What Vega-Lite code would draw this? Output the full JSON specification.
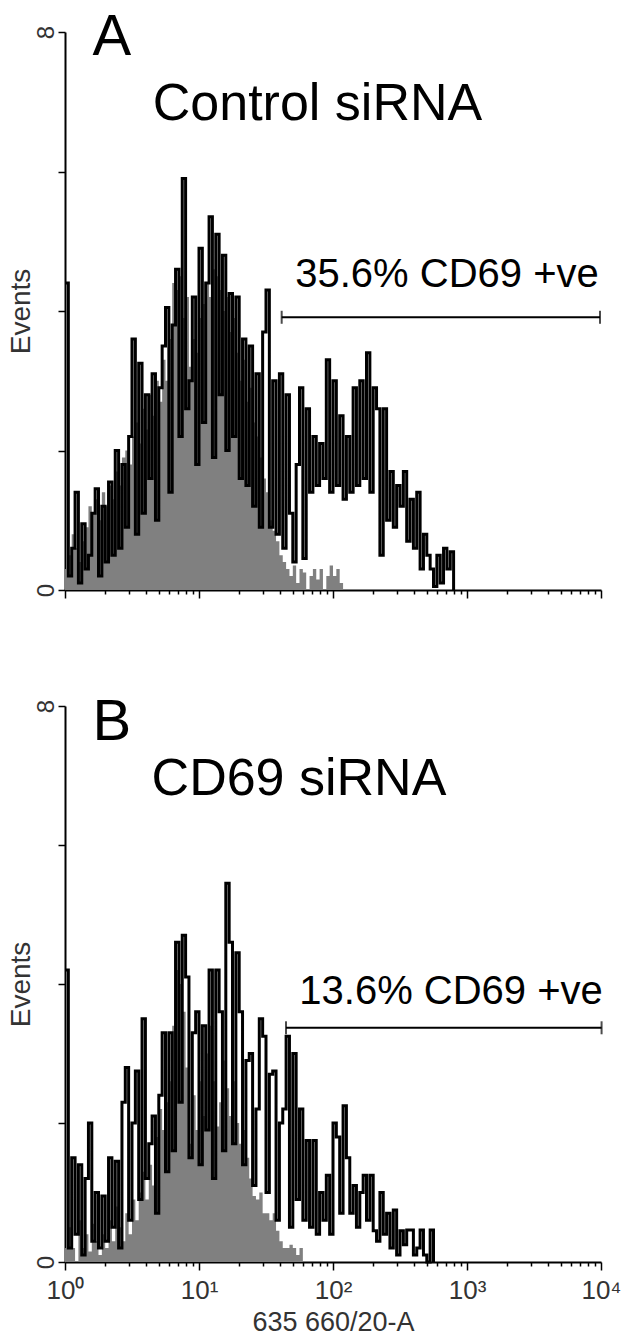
{
"$schema": "https://vega.github.io/schema/vega-lite/v6.json",
"padding": {"left": 7, "top": 9, "right": 0, "bottom": 0},
"spacing": 116,
"bounds": "flush",
"config": {
  "view": {"stroke": null},
  "font": "Liberation Sans",
  "axis": {"grid": false, "domainColor": "black", "domainWidth": 2, "tickColor": "black", "tickWidth": 1.5, "labelFont": "Liberation Sans", "titleFont": "Liberation Sans", "labelColor": "#333", "titleColor": "#333", "titleFontWeight": "normal"},
  "axisY": {"titleFontSize": 28, "titleX": -36, "titleBaseline": "alphabetic", "labelFontSize": 24}
},
"datasets": {
"A": [
{"x":1,"g":0.3,"b":4.4},{"x":1.059,"g":0.5,"b":0.2},{"x":1.122,"g":0.8,"b":0.6},{"x":1.189,"g":0.6,"b":1.4},{"x":1.259,"g":0.4,"b":0.1},{"x":1.334,"g":0.7,"b":0.95},{"x":1.413,"g":0.9,"b":0.3},{"x":1.496,"g":1.2,"b":0.5},{"x":1.585,"g":1.1,"b":1.1},{"x":1.679,"g":1.3,"b":1.45},
{"x":1.778,"g":1.0,"b":0.2},{"x":1.884,"g":1.4,"b":1.2},{"x":1.995,"g":1.2,"b":0.4},{"x":2.113,"g":1.5,"b":1.55},{"x":2.239,"g":1.3,"b":0.5},{"x":2.371,"g":1.7,"b":2.0},{"x":2.512,"g":1.5,"b":0.6},{"x":2.661,"g":1.9,"b":1.8},{"x":2.818,"g":2.0,"b":0.9},{"x":2.985,"g":1.8,"b":2.2},
{"x":3.162,"g":2.2,"b":3.6},{"x":3.35,"g":2.4,"b":0.8},{"x":3.548,"g":2.1,"b":3.25},{"x":3.758,"g":2.6,"b":1.1},{"x":3.981,"g":2.3,"b":2.8},{"x":4.217,"g":2.8,"b":1.6},{"x":4.467,"g":2.5,"b":3.1},{"x":4.732,"g":3.0,"b":1.0},{"x":5.012,"g":2.7,"b":2.9},{"x":5.309,"g":3.3,"b":3.5},
{"x":5.623,"g":3.0,"b":4.05},{"x":5.957,"g":3.6,"b":1.4},{"x":6.31,"g":4.4,"b":3.8},{"x":6.683,"g":4.3,"b":4.6},{"x":7.079,"g":4.5,"b":2.2},{"x":7.499,"g":3.9,"b":5.9},{"x":7.943,"g":4.2,"b":2.6},{"x":8.414,"g":3.2,"b":3.0},{"x":8.913,"g":3.6,"b":4.2},{"x":9.441,"g":3.4,"b":1.8},
{"x":10,"g":3.9,"b":4.9},{"x":10.59,"g":4.1,"b":2.4},{"x":11.22,"g":4.4,"b":4.4},{"x":11.89,"g":4.2,"b":5.35},{"x":12.59,"g":4.6,"b":1.9},{"x":13.34,"g":4.5,"b":5.1},{"x":14.13,"g":4.3,"b":2.8},{"x":14.96,"g":4.0,"b":4.8},{"x":15.85,"g":4.2,"b":2.0},{"x":16.79,"g":3.7,"b":4.25},
{"x":17.78,"g":3.9,"b":2.2},{"x":18.84,"g":3.4,"b":4.2},{"x":19.95,"g":3.0,"b":1.6},{"x":21.13,"g":3.3,"b":3.6},{"x":22.39,"g":2.7,"b":1.5},{"x":23.71,"g":2.9,"b":3.5},{"x":25.12,"g":2.4,"b":1.2},{"x":26.61,"g":2.2,"b":3.1},{"x":28.18,"g":1.9,"b":0.9},{"x":29.85,"g":1.6,"b":3.7},
{"x":31.62,"g":1.4,"b":4.3},{"x":33.5,"g":1.0,"b":0.9},{"x":35.48,"g":0.85,"b":3.0},{"x":37.58,"g":0.7,"b":0.8},{"x":39.81,"g":0.5,"b":3.1},{"x":42.17,"g":0.4,"b":0.6},{"x":44.67,"g":0.3,"b":2.8},{"x":47.32,"g":0.2,"b":1.1},{"x":50.12,"g":0.35,"b":0.4},{"x":53.09,"g":0.1,"b":1.8},
{"x":56.23,"g":0.3,"b":2.9},{"x":59.57,"g":0.25,"b":0.45},{"x":63.1,"g":0,"b":2.6},{"x":66.83,"g":0.2,"b":1.4},{"x":70.79,"g":0.3,"b":2.2},{"x":74.99,"g":0.15,"b":1.5},{"x":79.43,"g":0.3,"b":2.1},{"x":84.14,"g":0,"b":1.6},{"x":89.13,"g":0.2,"b":3.3},{"x":94.41,"g":0.35,"b":1.4},
{"x":100,"g":0.2,"b":3.0},{"x":105.9,"g":0.3,"b":1.5},{"x":112.2,"g":0.1,"b":2.5},{"x":118.9,"g":0,"b":1.3},{"x":125.9,"g":0,"b":2.2},{"x":133.4,"g":0,"b":1.4},{"x":141.3,"g":0,"b":2.9},{"x":149.6,"g":0,"b":1.5},{"x":158.5,"g":0,"b":3.0},{"x":167.9,"g":0,"b":1.6},
{"x":177.8,"g":0,"b":3.4},{"x":188.4,"g":0,"b":1.4},{"x":199.5,"g":0,"b":2.9},{"x":211.3,"g":0,"b":2.6},{"x":223.9,"g":0,"b":0.5},{"x":237.1,"g":0,"b":2.6},{"x":251.2,"g":0,"b":1.0},{"x":266.1,"g":0,"b":1.7},{"x":281.8,"g":0,"b":0.9},{"x":298.5,"g":0,"b":1.5},
{"x":316.2,"g":0,"b":1.2},{"x":335,"g":0,"b":1.7},{"x":354.8,"g":0,"b":0.7},{"x":375.8,"g":0,"b":1.3},{"x":398.1,"g":0,"b":0.6},{"x":421.7,"g":0,"b":1.4},{"x":446.7,"g":0,"b":0.3},{"x":473.2,"g":0,"b":0.8},{"x":501.2,"g":0,"b":0.5},{"x":530.9,"g":0,"b":0.3},
{"x":562.3,"g":0,"b":0.05},{"x":595.7,"g":0,"b":0.5},{"x":631,"g":0,"b":0.1},{"x":668.3,"g":0,"b":0.6},{"x":707.9,"g":0,"b":0.3},{"x":749.9,"g":0,"b":0.55},{"x":794.3,"g":0,"b":0}
],
"B": [
{"x":1,"g":0.2,"b":4.2},{"x":1.059,"g":0.5,"b":0.2},{"x":1.122,"g":0.2,"b":1.5},{"x":1.189,"g":0,"b":0.4},{"x":1.259,"g":0.6,"b":1.4},{"x":1.334,"g":0.2,"b":0.1},{"x":1.413,"g":0.4,"b":1.2},{"x":1.496,"g":0.15,"b":2.0},{"x":1.585,"g":0.55,"b":0.3},{"x":1.679,"g":0.3,"b":1.0},
{"x":1.778,"g":0.1,"b":0.2},{"x":1.884,"g":0.4,"b":0.95},{"x":1.995,"g":0.2,"b":0.3},{"x":2.113,"g":0.6,"b":1.5},{"x":2.239,"g":0.3,"b":0.5},{"x":2.371,"g":0.8,"b":1.45},{"x":2.512,"g":0.5,"b":0.2},{"x":2.661,"g":0.3,"b":2.3},{"x":2.818,"g":0.7,"b":2.8},{"x":2.985,"g":0.4,"b":0.6},
{"x":3.162,"g":0.9,"b":2.0},{"x":3.35,"g":0.6,"b":2.75},{"x":3.548,"g":1.0,"b":0.9},{"x":3.758,"g":1.3,"b":3.5},{"x":3.981,"g":0.9,"b":1.2},{"x":4.217,"g":1.4,"b":1.7},{"x":4.467,"g":1.1,"b":2.1},{"x":4.732,"g":1.8,"b":0.7},{"x":5.012,"g":2.2,"b":2.4},{"x":5.309,"g":1.9,"b":3.3},
{"x":5.623,"g":2.3,"b":1.3},{"x":5.957,"g":2.6,"b":3.3},{"x":6.31,"g":3.4,"b":1.6},{"x":6.683,"g":4.2,"b":4.6},{"x":7.079,"g":4.0,"b":2.3},{"x":7.499,"g":3.6,"b":4.7},{"x":7.943,"g":2.8,"b":4.1},{"x":8.414,"g":1.7,"b":1.5},{"x":8.913,"g":2.4,"b":3.3},{"x":9.441,"g":1.9,"b":3.6},
{"x":10,"g":2.6,"b":1.4},{"x":10.59,"g":2.1,"b":3.4},{"x":11.22,"g":3.0,"b":1.9},{"x":11.89,"g":3.4,"b":4.2},{"x":12.59,"g":2.6,"b":1.2},{"x":13.34,"g":1.95,"b":4.2},{"x":14.13,"g":2.3,"b":3.6},{"x":14.96,"g":2.9,"b":1.6},{"x":15.85,"g":2.5,"b":5.45},{"x":16.79,"g":2.1,"b":4.6},
{"x":17.78,"g":2.6,"b":1.7},{"x":18.84,"g":2.0,"b":4.45},{"x":19.95,"g":1.7,"b":3.6},{"x":21.13,"g":1.9,"b":1.4},{"x":22.39,"g":1.5,"b":2.9},{"x":23.71,"g":1.2,"b":3.0},{"x":25.12,"g":0.95,"b":1.1},{"x":26.61,"g":0.9,"b":2.2},{"x":28.18,"g":1.0,"b":3.5},{"x":29.85,"g":0.7,"b":3.25},
{"x":31.62,"g":0.7,"b":1.0},{"x":33.5,"g":0.6,"b":2.7},{"x":35.48,"g":0.7,"b":2.75},{"x":37.58,"g":0.45,"b":0.6},{"x":39.81,"g":0.3,"b":2.0},{"x":42.17,"g":0.2,"b":2.2},{"x":44.67,"g":0.2,"b":3.25},{"x":47.32,"g":0.25,"b":0.5},{"x":50.12,"g":0.2,"b":3.0},{"x":53.09,"g":0.1,"b":0.9},
{"x":56.23,"g":0.2,"b":2.2},{"x":59.57,"g":0,"b":0.6},{"x":63.1,"g":0,"b":1.75},{"x":66.83,"g":0,"b":0.5},{"x":70.79,"g":0,"b":1.75},{"x":74.99,"g":0,"b":0.4},{"x":79.43,"g":0,"b":1.0},{"x":84.14,"g":0,"b":0.6},{"x":89.13,"g":0,"b":1.25},{"x":94.41,"g":0,"b":0.4},
{"x":100,"g":0,"b":2.0},{"x":105.9,"g":0,"b":1.8},{"x":112.2,"g":0,"b":0.7},{"x":118.9,"g":0,"b":2.25},{"x":125.9,"g":0,"b":1.5},{"x":133.4,"g":0,"b":0.7},{"x":141.3,"g":0,"b":1.1},{"x":149.6,"g":0,"b":0.5},{"x":158.5,"g":0,"b":1.0},{"x":167.9,"g":0,"b":1.25},
{"x":177.8,"g":0,"b":0.6},{"x":188.4,"g":0,"b":1.25},{"x":199.5,"g":0,"b":0.45},{"x":211.3,"g":0,"b":0.3},{"x":223.9,"g":0,"b":1.0},{"x":237.1,"g":0,"b":0.4},{"x":251.2,"g":0,"b":0.7},{"x":266.1,"g":0,"b":0.2},{"x":281.8,"g":0,"b":0.75},{"x":298.5,"g":0,"b":0.1},
{"x":316.2,"g":0,"b":0.45},{"x":335,"g":0,"b":0.25},{"x":354.8,"g":0,"b":0.46},{"x":375.8,"g":0,"b":0.46},{"x":398.1,"g":0,"b":0.1},{"x":421.7,"g":0,"b":0.2},{"x":446.7,"g":0,"b":0.46},{"x":473.2,"g":0,"b":0.1},{"x":501.2,"g":0,"b":0},{"x":530.9,"g":0,"b":0.46},
{"x":562.3,"g":0,"b":0}
],
"ann": [
{"p":"A","kind":"letter","t":"A","x":2.24,"y":7.67},
{"p":"A","kind":"title","t":"Control siRNA","x":76.6,"y":6.74},
{"p":"A","kind":"gate","t":"35.6% CD69 +ve","x":709,"y":4.34},
{"p":"B","kind":"letter","t":"B","x":2.24,"y":7.51},
{"p":"B","kind":"title","t":"CD69 siRNA","x":55.7,"y":6.72},
{"p":"B","kind":"gate","t":"13.6% CD69 +ve","x":760,"y":3.71}
],
"gate": [
{"p":"A","x":41.4,"x2":9830,"y":3.91},
{"p":"B","x":44.6,"x2":10100,"y":3.37}
]
},
"vconcat": [
{
"width": 536, "height": 558,
"layer": [
{"data": {"name": "A"}, "mark": {"type": "area", "interpolate": "step-after", "color": "#808080"},
 "encoding": {
  "x": {"field": "x", "type": "quantitative", "scale": {"type": "log", "domain": [1, 10000], "nice": false},
        "axis": {"values": [1,2,3,4,5,6,7,8,9,10,20,30,40,50,60,70,80,90,100,200,300,400,500,600,700,800,900,1000,2000,3000,4000,5000,6000,7000,8000,9000,10000],
                 "labels": false, "title": null,
                 "tickSize": {"condition": {"test": "datum.value==1||datum.value==10||datum.value==100||datum.value==1000||datum.value==10000", "value": 8}, "value": 4}}},
  "y": {"field": "g", "type": "quantitative", "title": "Events", "scale": {"domain": [0, 8], "nice": false},
        "axis": {"values": [0,2,4,6,8], "format": "d", "labelExpr": "datum.value==0||datum.value==8?datum.label:''", "labelAngle": -90, "labelAlign": "center", "labelBaseline": "alphabetic", "labelFontSize": 24, "labelPadding": 5, "tickSize": 7, "titleFontSize": 28, "titleX": -36, "titleBaseline": "alphabetic"}}
 }},
{"data": {"name": "A"}, "mark": {"type": "line", "interpolate": "step-after", "color": "black", "strokeWidth": 3},
 "encoding": {"x": {"field": "x", "type": "quantitative"}, "y": {"field": "b", "type": "quantitative", "title": "Events"}}},
{"data": {"name": "gate"}, "transform": [{"filter": "datum.p=='A'"}], "mark": {"type": "rule", "color": "black", "strokeWidth": 2},
 "encoding": {"x": {"field": "x", "type": "quantitative"}, "x2": {"field": "x2"}, "y": {"field": "y", "type": "quantitative"}}},
{"data": {"name": "gate"}, "transform": [{"filter": "datum.p=='A'"}, {"fold": ["x", "x2"], "as": ["end", "xv"]}], "mark": {"type": "tick", "orient": "vertical", "color": "black", "size": 13, "thickness": 2},
 "encoding": {"x": {"field": "xv", "type": "quantitative"}, "y": {"field": "y", "type": "quantitative"}}},
{"data": {"name": "ann"}, "transform": [{"filter": "datum.p=='A' && datum.kind=='letter'"}], "mark": {"type": "text", "fontSize": 58, "align": "center", "baseline": "alphabetic", "color": "black"},
 "encoding": {"x": {"field": "x", "type": "quantitative"}, "y": {"field": "y", "type": "quantitative"}, "text": {"field": "t"}}},
{"data": {"name": "ann"}, "transform": [{"filter": "datum.p=='A' && datum.kind=='title'"}], "mark": {"type": "text", "fontSize": 52, "align": "center", "baseline": "alphabetic", "color": "black"},
 "encoding": {"x": {"field": "x", "type": "quantitative"}, "y": {"field": "y", "type": "quantitative"}, "text": {"field": "t"}}},
{"data": {"name": "ann"}, "transform": [{"filter": "datum.p=='A' && datum.kind=='gate'"}], "mark": {"type": "text", "fontSize": 40, "align": "center", "baseline": "alphabetic", "color": "black"},
 "encoding": {"x": {"field": "x", "type": "quantitative"}, "y": {"field": "y", "type": "quantitative"}, "text": {"field": "t"}}}
]
},
{
"width": 536, "height": 556,
"layer": [
{"data": {"name": "B"}, "mark": {"type": "area", "interpolate": "step-after", "color": "#808080"},
 "encoding": {
  "x": {"field": "x", "type": "quantitative", "title": "635 660/20-A", "scale": {"type": "log", "domain": [1, 10000], "nice": false},
        "axis": {"values": [1,2,3,4,5,6,7,8,9,10,20,30,40,50,60,70,80,90,100,200,300,400,500,600,700,800,900,1000,2000,3000,4000,5000,6000,7000,8000,9000,10000],
                 "labelExpr": "datum.value==1?'10⁰':datum.value==10?'10¹':datum.value==100?'10²':datum.value==1000?'10³':datum.value==10000?'10⁴':''",
                 "labelOverlap": false, "labelFlush": false, "labelFontSize": 26, "labelPadding": 7, "titleFontSize": 27, "titlePadding": 6,
                 "tickSize": {"condition": {"test": "datum.value==1||datum.value==10||datum.value==100||datum.value==1000||datum.value==10000", "value": 8}, "value": 4}}},
  "y": {"field": "g", "type": "quantitative", "title": "Events", "scale": {"domain": [0, 8], "nice": false},
        "axis": {"values": [0,2,4,6,8], "format": "d", "labelExpr": "datum.value==0||datum.value==8?datum.label:''", "labelAngle": -90, "labelAlign": "center", "labelBaseline": "alphabetic", "labelFontSize": 24, "labelPadding": 5, "tickSize": 7, "titleFontSize": 28, "titleX": -36, "titleBaseline": "alphabetic"}}
 }},
{"data": {"name": "B"}, "mark": {"type": "line", "interpolate": "step-after", "color": "black", "strokeWidth": 3},
 "encoding": {"x": {"field": "x", "type": "quantitative", "title": "635 660/20-A"}, "y": {"field": "b", "type": "quantitative", "title": "Events"}}},
{"data": {"name": "gate"}, "transform": [{"filter": "datum.p=='B'"}], "mark": {"type": "rule", "color": "black", "strokeWidth": 2},
 "encoding": {"x": {"field": "x", "type": "quantitative"}, "x2": {"field": "x2"}, "y": {"field": "y", "type": "quantitative"}}},
{"data": {"name": "gate"}, "transform": [{"filter": "datum.p=='B'"}, {"fold": ["x", "x2"], "as": ["end", "xv"]}], "mark": {"type": "tick", "orient": "vertical", "color": "black", "size": 13, "thickness": 2},
 "encoding": {"x": {"field": "xv", "type": "quantitative"}, "y": {"field": "y", "type": "quantitative"}}},
{"data": {"name": "ann"}, "transform": [{"filter": "datum.p=='B' && datum.kind=='letter'"}], "mark": {"type": "text", "fontSize": 58, "align": "center", "baseline": "alphabetic", "color": "black"},
 "encoding": {"x": {"field": "x", "type": "quantitative"}, "y": {"field": "y", "type": "quantitative"}, "text": {"field": "t"}}},
{"data": {"name": "ann"}, "transform": [{"filter": "datum.p=='B' && datum.kind=='title'"}], "mark": {"type": "text", "fontSize": 52, "align": "center", "baseline": "alphabetic", "color": "black"},
 "encoding": {"x": {"field": "x", "type": "quantitative"}, "y": {"field": "y", "type": "quantitative"}, "text": {"field": "t"}}},
{"data": {"name": "ann"}, "transform": [{"filter": "datum.p=='B' && datum.kind=='gate'"}], "mark": {"type": "text", "fontSize": 40, "align": "center", "baseline": "alphabetic", "color": "black"},
 "encoding": {"x": {"field": "x", "type": "quantitative"}, "y": {"field": "y", "type": "quantitative"}, "text": {"field": "t"}}}
]
}
]
}
